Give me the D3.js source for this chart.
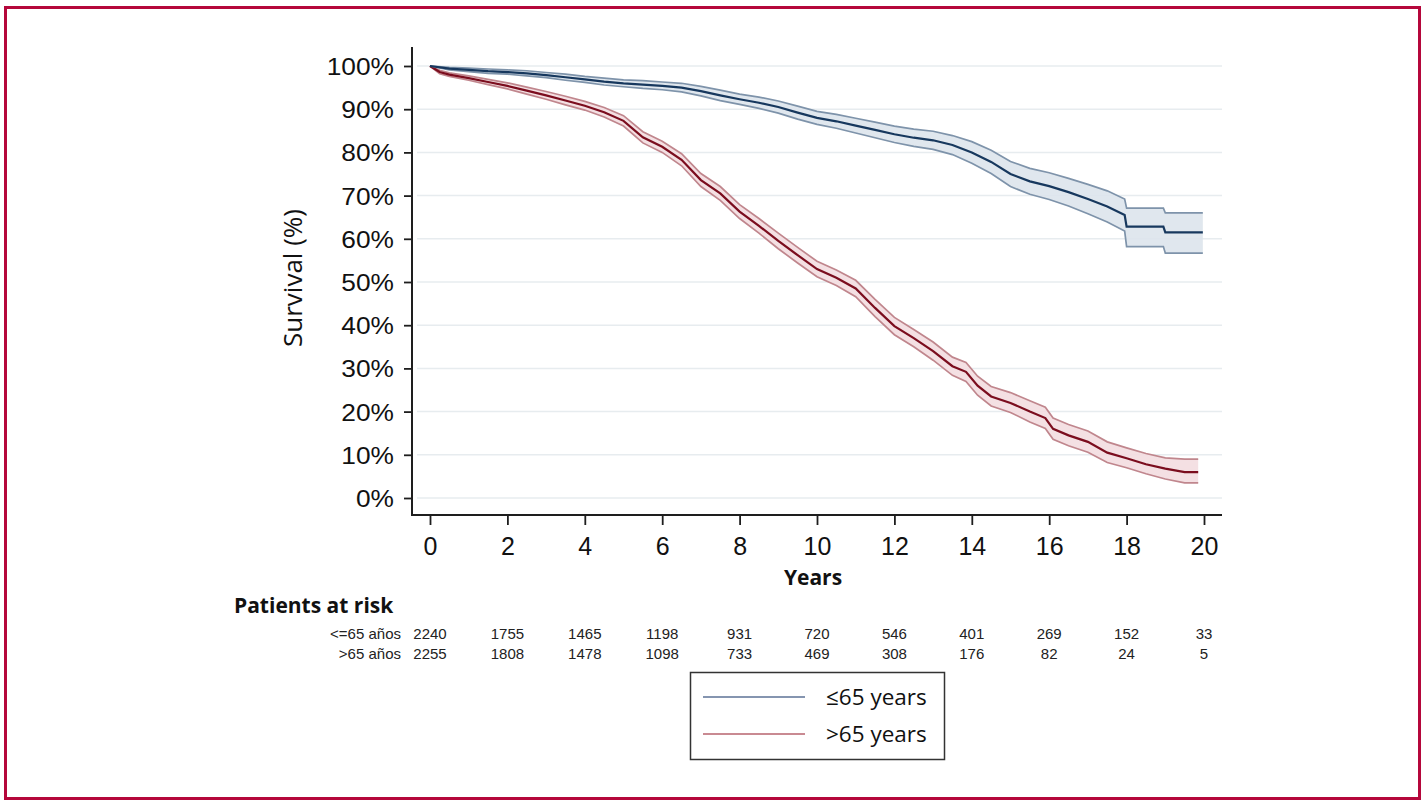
<!DOCTYPE html>
<html><head><meta charset="utf-8">
<script src="https://cdn.jsdelivr.net/npm/d3@7"></script>
<style>
html,body{margin:0;padding:0;background:#fff;}
svg{display:block;}
</style></head>
<body>
<svg id="chart" width="1427" height="805"></svg>
<script>
// ---------- DATA ----------
const yTicks = [0,10,20,30,40,50,60,70,80,90,100];
const xTicks = [0,2,4,6,8,10,12,14,16,18,20];

// <=65 years
const youngTime = [0,0.5,1,1.5,2,2.5,3,3.5,4,4.5,5,5.5,6,6.5,7,7.5,8,8.5,9,9.5,10,10.5,11,11.5,12,12.5,13,13.5,14,14.5,15,15.5,16,16.5,17,17.5,17.95,18,18.95,19,19.97];
const youngSurv = [100,99.4,99.1,98.8,98.6,98.3,97.9,97.4,96.9,96.4,96.0,95.7,95.4,95.0,94.2,93.2,92.3,91.5,90.5,89.2,88.0,87.2,86.2,85.2,84.2,83.4,82.8,81.7,80.0,77.8,75.0,73.3,72.2,70.8,69.2,67.5,65.5,62.8,62.8,61.5,61.5];
const youngHi   = [100,99.7,99.5,99.3,99.1,98.9,98.5,98.1,97.6,97.2,96.8,96.6,96.3,96.0,95.3,94.4,93.5,92.8,91.9,90.7,89.5,88.8,87.9,87.0,86.1,85.4,84.9,83.9,82.5,80.5,77.9,76.3,75.3,74.0,72.6,71.1,69.2,67.1,67.1,66.0,66.0];
const youngLo   = [100,99.1,98.7,98.3,98.1,97.7,97.3,96.7,96.2,95.6,95.2,94.8,94.5,94.0,93.1,92.0,91.1,90.2,89.1,87.7,86.5,85.6,84.5,83.4,82.3,81.4,80.7,79.5,77.5,75.1,72.1,70.3,69.1,67.6,65.8,63.9,61.8,58.2,58.2,56.7,56.7];

// >65 years
const oldTime = [0,0.25,0.5,1,1.5,2,2.5,3,3.5,4,4.5,5,5.5,6,6.5,7,7.5,8,8.5,9,9.5,10,10.5,11,11.5,12,12.5,13,13.5,13.85,14.15,14.5,15,15.5,15.9,16.1,16.5,17,17.5,18,18.5,19,19.5,19.85];
const oldSurv = [100,98.6,98.0,97.2,96.3,95.4,94.3,93.2,92.0,90.8,89.3,87.3,83.5,81.3,78.3,73.6,70.5,66.3,63.0,59.5,56.2,53.0,51.0,48.5,44.0,39.8,37.0,34.0,30.5,29.2,26.0,23.5,22.0,20.0,18.5,16.0,14.5,13.0,10.5,9.2,7.8,6.8,6.0,6.0];
const oldHi   = [100,99.0,98.4,97.7,96.9,96.1,95.1,94.1,93.0,91.8,90.4,88.5,84.8,82.6,79.7,75.1,72.1,67.9,64.7,61.3,58.0,54.8,52.8,50.4,46.0,41.8,39.0,36.1,32.6,31.4,28.2,25.8,24.4,22.5,21.0,18.5,17.0,15.5,13.0,11.6,10.3,9.3,9.0,9.0];
const oldLo   = [100,98.2,97.6,96.7,95.7,94.7,93.5,92.3,91.0,89.8,88.2,86.1,82.2,80.0,76.9,72.1,68.9,64.7,61.3,57.7,54.4,51.2,49.2,46.6,42.0,37.8,35.0,31.9,28.4,27.0,23.8,21.3,19.8,17.6,16.1,13.6,12.1,10.6,8.2,7.0,5.6,4.4,3.5,3.5];

const riskLabels = ["<=65 años", ">65 años"];
const riskTimes = [0,2,4,6,8,10,12,14,16,18,20];
const riskYoung = [2240,1755,1465,1198,931,720,546,401,269,152,33];
const riskOld   = [2255,1808,1478,1098,733,469,308,176,82,24,5];

const legendLabels = ["\u226465 years", ">65 years"];

// ---------- STYLE ----------
const C = {
  border:"#b5073b",
  axis:"#1e1e1e",
  grid:"#e7ecef",
  youngLine:"#17385e", youngBand:"#dde4ec", youngEdge:"#7e93aa", youngLeg:"#8595b0",
  oldLine:"#7b0d1e", oldBand:"#f3dde0", oldEdge:"#c0868d", oldLeg:"#c98a92"
};

const svg = d3.select("#chart");

// border
svg.append("rect").attr("x",5.5).attr("y",7.5).attr("width",1414).attr("height",791)
  .attr("fill","none").attr("stroke",C.border).attr("stroke-width",3);

const x = d3.scaleLinear().domain([0,20]).range([430,1204]);
const y = d3.scaleLinear().domain([0,100]).range([498,66]);

// gridlines
svg.append("g").selectAll("line").data(yTicks).join("line")
  .attr("x1",417).attr("x2",1222)
  .attr("y1",d=>y(d)).attr("y2",d=>y(d))
  .attr("stroke",C.grid).attr("stroke-width",1.5);

// curves
function drawGroup(time, surv, lo, hi, band, edge, line){
  const pts = time.map((t,i)=>({t, s:surv[i], lo:lo[i], hi:hi[i]}));
  const area = d3.area().x(d=>x(d.t)).y0(d=>y(d.lo)).y1(d=>y(d.hi));
  svg.append("path").datum(pts).attr("d",area).attr("fill",band).attr("opacity",0.9);
  const lHi = d3.line().x(d=>x(d.t)).y(d=>y(d.hi));
  const lLo = d3.line().x(d=>x(d.t)).y(d=>y(d.lo));
  const lS = d3.line().x(d=>x(d.t)).y(d=>y(d.s));
  svg.append("path").datum(pts).attr("d",lHi).attr("fill","none").attr("stroke",edge).attr("stroke-width",1.7);
  svg.append("path").datum(pts).attr("d",lLo).attr("fill","none").attr("stroke",edge).attr("stroke-width",1.7);
  svg.append("path").datum(pts).attr("d",lS).attr("fill","none").attr("stroke",line).attr("stroke-width",2.2);
}
drawGroup(oldTime, oldSurv, oldLo, oldHi, C.oldBand, C.oldEdge, C.oldLine);
drawGroup(youngTime, youngSurv, youngLo, youngHi, C.youngBand, C.youngEdge, C.youngLine);

// Y axis
const ySx = 1.12;
const yAxis = svg.append("g").attr("transform","translate(412,0)")
  .call(d3.axisLeft(y).tickValues(yTicks).tickFormat(d=>d+"%").tickSize(8).tickPadding(10));
yAxis.select(".domain").remove();
yAxis.selectAll(".tick line").attr("stroke",C.axis).attr("stroke-width",1.8);
yAxis.selectAll(".tick text").attr("font-family","'Liberation Sans', Arial, sans-serif")
  .attr("font-size",23.5).attr("fill","#111").attr("dy","0.36em")
  .attr("x",-18/ySx).attr("transform",`scale(${ySx},1)`);
svg.append("line").attr("x1",412).attr("x2",412).attr("y1",47).attr("y2",516)
  .attr("stroke",C.axis).attr("stroke-width",2);

// X axis
const xAxis = svg.append("g").attr("transform","translate(0,515)")
  .call(d3.axisBottom(x).tickValues(xTicks).tickSize(10).tickPadding(12));
xAxis.select(".domain").remove();
xAxis.selectAll(".tick line").attr("stroke",C.axis).attr("stroke-width",1.8);
xAxis.selectAll(".tick text").attr("font-family","'Liberation Sans', Arial, sans-serif")
  .attr("font-size",25).attr("fill","#111");
svg.append("line").attr("x1",411).attr("x2",1222).attr("y1",515).attr("y2",515)
  .attr("stroke",C.axis).attr("stroke-width",2);

// axis titles
svg.append("text").attr("transform","translate(302,278) rotate(-90)")
  .attr("text-anchor","middle").attr("font-family","'Open Sans', sans-serif")
  .attr("font-size",26).attr("fill","#111").text("Survival (%)");
svg.append("text").attr("x",813).attr("y",585).attr("text-anchor","middle")
  .attr("font-family","'Open Sans', sans-serif").attr("font-weight","bold")
  .attr("font-size",21).attr("fill","#111").text("Years");

// risk table
svg.append("text").attr("x",234).attr("y",613)
  .attr("font-family","'Open Sans', sans-serif").attr("font-weight","bold")
  .attr("font-size",21).attr("fill","#111").text("Patients at risk");
const rows = [riskYoung, riskOld];
rows.forEach((vals,r)=>{
  const yy = 639 + r*20;
  svg.append("text").attr("x",401).attr("y",yy).attr("text-anchor","end")
    .attr("font-family","'Liberation Sans', Arial, sans-serif")
    .attr("font-size",15).attr("fill","#222").text(riskLabels[r]);
  svg.append("g").selectAll("text").data(vals).join("text")
    .attr("x",(d,i)=>x(riskTimes[i])).attr("y",yy).attr("text-anchor","middle")
    .attr("font-family","'Liberation Sans', Arial, sans-serif")
    .attr("font-size",15).attr("fill","#222").text(d=>d);
});

// legend
const lg = svg.append("g");
lg.append("rect").attr("x",690.5).attr("y",672.5).attr("width",254).attr("height",87)
  .attr("fill","#fff").attr("stroke","#333").attr("stroke-width",1.5);
const legCols = [C.youngLeg, C.oldLeg];
legendLabels.forEach((lab,i)=>{
  const yy = 697 + i*37;
  lg.append("line").attr("x1",703).attr("x2",805).attr("y1",yy).attr("y2",yy)
    .attr("stroke",legCols[i]).attr("stroke-width",2);
  lg.append("text").attr("x",826).attr("y",yy).attr("dy","0.35em")
    .attr("font-family","'Open Sans', sans-serif").attr("font-size",22.5)
    .attr("fill","#111").text(lab);
});
</script>
</body></html>
